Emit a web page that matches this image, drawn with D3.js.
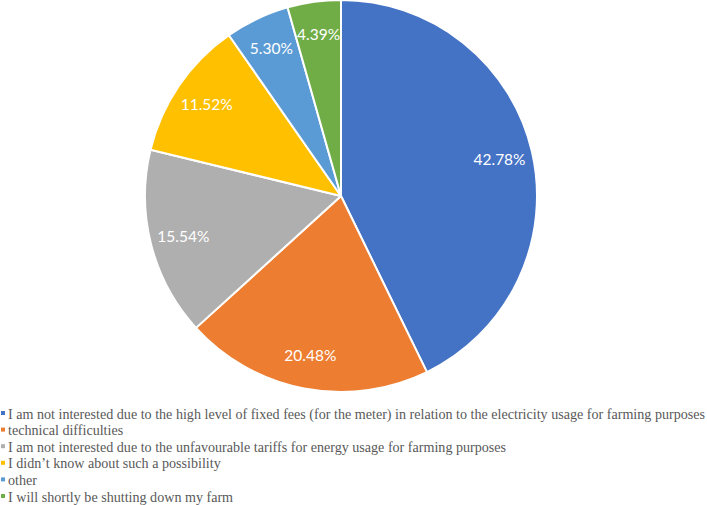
<!DOCTYPE html>
<html>
<head>
<meta charset="utf-8">
<script src="https://cdn.jsdelivr.net/npm/d3@7"></script>
<style>
  body { margin: 0; background: #fff; }
  .slice-label { font-family: Lato, "Open Sans", sans-serif; font-size: 15.5px; fill: #fff; }
  .legend-text { font-family: "Liberation Serif", "Times New Roman", serif; font-size: 14.1px; fill: #595959; }
</style>
</head>
<body>
<div id="chart"></div>
<script>
// Reasons (legend order = slice order, clockwise from 12 o'clock)
const categories = [
    "I am not interested due to the high level of fixed fees (for the meter) in relation to the electricity usage for farming purposes",
    "technical difficulties",
    "I am not interested due to the unfavourable tariffs for energy usage for farming purposes",
    "I didn\u2019t know about such a possibility",
    "other",
    "I will shortly be shutting down my farm"
];
const shares = [42.78, 20.48, 15.54, 11.52, 5.30, 4.39];
const colors = ["#4472C4", "#ED7D31", "#AFAFAF", "#FFC000", "#5B9BD5", "#70AD47"];

const width = 707, height = 505;
const cx = 341, cy = 196, radius = 196;

const data = categories.map((c, i) => ({ name: c, value: shares[i], color: colors[i] }));

const svg = d3.select("#chart")
    .append("svg")
    .attr("width", width)
    .attr("height", height);

const pieG = svg.append("g")
    .attr("transform", `translate(${cx},${cy})`);

const pie = d3.pie()
    .sort(null)
    .value(d => d.value);

const arc = d3.arc()
    .innerRadius(0)
    .outerRadius(radius);

// label ring, roughly where Excel puts "best fit" labels
const labelArc = d3.arc()
    .innerRadius(radius * 0.83)
    .outerRadius(radius * 0.83);

const arcs = pie(data);

pieG.selectAll(".slice")
    .data(arcs)
    .join("path")
    .attr("class", "slice")
    .attr("d", arc)
    .attr("fill", d => d.data.color)
    .attr("stroke", "#fff")
    .attr("stroke-width", 2)
    .attr("stroke-linejoin", "round");

pieG.selectAll(".slice-label")
    .data(arcs)
    .join("text")
    .attr("class", "slice-label")
    .attr("transform", d => `translate(${labelArc.centroid(d)})`)
    .attr("text-anchor", "middle")
    .attr("dy", "0.35em")
    .text(d => d.data.value.toFixed(2) + "%");

// Legend
const legendY = d3.scalePoint()
    .domain(categories)
    .range([415, 498]);

const legend = svg.append("g").attr("class", "legend");

const item = legend.selectAll(".legend-item")
    .data(data)
    .join("g")
    .attr("class", "legend-item")
    .attr("transform", d => `translate(0,${legendY(d.name)})`);

item.append("rect")
    .attr("x", 1)
    .attr("y", -4)
    .attr("width", 4)
    .attr("height", 4)
    .attr("fill", d => d.color);

item.append("text")
    .attr("class", "legend-text")
    .attr("x", 8)
    .attr("y", 0)
    .attr("dy", "0.25em")
    .text(d => d.name);
</script>
</body>
</html>
